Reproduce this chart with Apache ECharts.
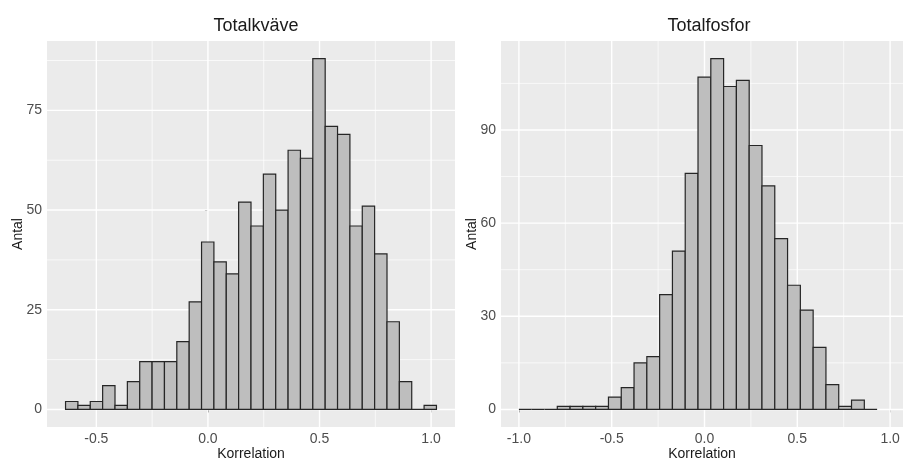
<!DOCTYPE html>
<html>
<head>
<meta charset="utf-8">
<script src="https://cdn.jsdelivr.net/npm/echarts@6/dist/echarts.min.js"></script>
<style>
  html, body { margin: 0; padding: 0; background: #fff; }
  #chart { width: 903px; height: 460px; }
</style>
</head>
<body>
<div id="chart"></div>
<script>
// Histogram counts per bin and the data range the bins span
const kvaveCounts = [2, 1, 2, 6, 1, 7, 12, 12, 12, 17, 27, 42, 37, 34, 52, 46, 59, 50, 65, 63, 88, 71, 69, 46, 51, 39, 22, 7, 0, 1];
const kvaveRange = [-0.638, 1.024];
const fosforCounts = [0, 0, 0, 1, 1, 1, 1, 4, 7, 15, 17, 37, 51, 76, 107, 113, 104, 106, 85, 72, 55, 40, 32, 20, 8, 1, 3, 0];
const fosforRange = [-1.0, 0.93];

// Axis breaks
const kvaveXTicks = [-0.5, 0, 0.5, 1.0];
const kvaveXMinor = [-0.25, 0.25, 0.75];
const kvaveYTicks = [0, 25, 50, 75];
const kvaveYMinor = [12.5, 37.5, 62.5, 87.5];
const fosforXTicks = [-1.0, -0.5, 0, 0.5, 1.0];
const fosforXMinor = [-0.75, -0.25, 0.25, 0.75];
const fosforYTicks = [0, 30, 60, 90];
const fosforYMinor = [15, 45, 75, 105];

const FONT = '"Liberation Sans", Arial, sans-serif';

function bins(counts, range) {
  const w = (range[1] - range[0]) / counts.length;
  return counts.map((c, i) => [range[0] + i * w, range[0] + (i + 1) * w, c]);
}

function expand(lo, hi, f) {
  const p = (hi - lo) * f;
  return [lo - p, hi + p];
}

function gridSeries(idx, values, dir, major) {
  return {
    type: 'custom',
    xAxisIndex: idx, yAxisIndex: idx,
    silent: true, z: 1,
    data: values.map(v => [v]),
    encode: dir === 'v' ? { x: 0 } : { y: 0 },
    renderItem: function (params, api) {
      const cs = params.coordSys;
      const v = api.value(0);
      let shape;
      if (dir === 'v') {
        const x = api.coord([v, 0])[0];
        shape = { x1: x, y1: cs.y, x2: x, y2: cs.y + cs.height };
      } else {
        const y = api.coord([0, v])[1];
        shape = { x1: cs.x, y1: y, x2: cs.x + cs.width, y2: y };
      }
      return {
        type: 'line', shape: shape,
        style: { stroke: '#FFFFFF', lineWidth: major ? 1.4 : 0.7 }
      };
    }
  };
}

function histSeries(idx, data) {
  return {
    type: 'custom',
    xAxisIndex: idx, yAxisIndex: idx,
    z: 3,
    data: data,
    encode: { x: [0, 1], y: 2 },
    renderItem: function (params, api) {
      const p0 = api.coord([api.value(0), 0]);
      const p1 = api.coord([api.value(1), api.value(2)]);
      return {
        type: 'rect',
        shape: { x: p0[0], y: p1[1], width: p1[0] - p0[0], height: p0[1] - p1[1] },
        style: { fill: '#BEBEBE', stroke: '#262626', lineWidth: 1.2 }
      };
    }
  };
}

const kvaveX = expand(kvaveRange[0], kvaveRange[1], 0.05);
const kvaveY = expand(0, Math.max(...kvaveCounts), 0.05);
const fosforX = expand(fosforRange[0], fosforRange[1], 0.05);
const fosforY = expand(0, Math.max(...fosforCounts), 0.05);

function xAxisDef(gi, ext, ticks, maxOverride) {
  return {
    type: 'value', gridIndex: gi,
    min: ext[0], max: maxOverride !== undefined ? maxOverride : ext[1],
    name: 'Korrelation', nameLocation: 'middle', nameGap: 20, nameMoveOverlap: false,
    nameTextStyle: { fontFamily: FONT, fontSize: 14, color: '#1a1a1a' },
    axisLine: { show: false },
    axisTick: { show: true, length: 3, customValues: ticks, lineStyle: { color: '#333333', width: 1 } },
    axisLabel: {
      customValues: ticks, margin: 5, fontFamily: FONT, fontSize: 14, color: '#4D4D4D',
      formatter: v => v.toFixed(1)
    },
    splitLine: { show: false }
  };
}

function yAxisDef(gi, ext, ticks) {
  return {
    type: 'value', gridIndex: gi,
    min: ext[0], max: ext[1],
    name: 'Antal', nameLocation: 'middle', nameGap: 22, nameRotate: 90, nameMoveOverlap: false,
    nameTextStyle: { fontFamily: FONT, fontSize: 14, color: '#1a1a1a' },
    axisLine: { show: false },
    axisTick: { show: true, length: 3, customValues: ticks, lineStyle: { color: '#333333', width: 1 } },
    axisLabel: {
      customValues: ticks, margin: 5, fontFamily: FONT, fontSize: 14, color: '#4D4D4D',
      formatter: v => String(v)
    },
    splitLine: { show: false }
  };
}

const chart = echarts.init(document.getElementById('chart'), null, { renderer: 'canvas' });

chart.setOption({
  backgroundColor: '#FFFFFF',
  animation: false,
  title: [
    { text: 'Totalkväve', left: 251, top: 12, textAlign: 'center',
      textStyle: { fontFamily: FONT, fontSize: 18, fontWeight: 'normal', color: '#1a1a1a' } },
    { text: 'Totalfosfor', left: 704, top: 12, textAlign: 'center',
      textStyle: { fontFamily: FONT, fontSize: 18, fontWeight: 'normal', color: '#1a1a1a' } }
  ],
  grid: [
    { left: 47, top: 41, width: 408, height: 386, show: true, backgroundColor: '#EBEBEB', borderWidth: 0,
      containLabel: false, outerBoundsMode: 'none' },
    { left: 501, top: 41, width: 402, height: 386, show: true, backgroundColor: '#EBEBEB', borderWidth: 0,
      containLabel: false, outerBoundsMode: 'none' }
  ],
  xAxis: [
    xAxisDef(0, kvaveX, kvaveXTicks),
    xAxisDef(1, fosforX, fosforXTicks, fosforX[0] + 402 / 185.6)
  ],
  yAxis: [
    yAxisDef(0, kvaveY, kvaveYTicks),
    yAxisDef(1, fosforY, fosforYTicks)
  ],
  series: [
    gridSeries(0, kvaveXMinor, 'v', false),
    gridSeries(0, kvaveYMinor, 'h', false),
    gridSeries(0, kvaveXTicks, 'v', true),
    gridSeries(0, kvaveYTicks, 'h', true),
    histSeries(0, bins(kvaveCounts, kvaveRange)),
    gridSeries(1, fosforXMinor, 'v', false),
    gridSeries(1, fosforYMinor, 'h', false),
    gridSeries(1, fosforXTicks, 'v', true),
    gridSeries(1, fosforYTicks, 'h', true),
    histSeries(1, bins(fosforCounts, fosforRange))
  ]
});
</script>
</body>
</html>
